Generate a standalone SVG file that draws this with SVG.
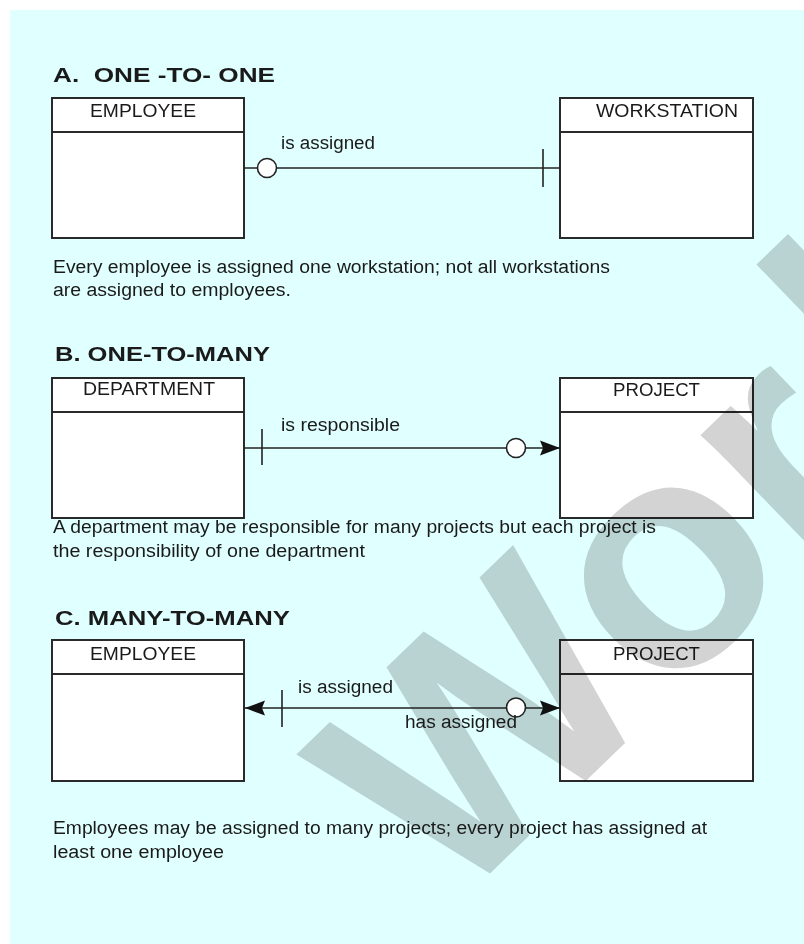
<svg xmlns="http://www.w3.org/2000/svg" width="804" height="944" viewBox="0 0 804 944">
<style>
.bg{fill:#e0ffff}
.box{fill:#ffffff;stroke:#2a2a2a;stroke-width:2}
.div{stroke:#2a2a2a;stroke-width:2}
.ln{stroke:#222;stroke-width:1.6;fill:none}
.tk{stroke:#222;stroke-width:1.6}
.circ{fill:#ffffff;stroke:#222;stroke-width:1.6}
.ah{fill:#111}
.h{font-family:"Liberation Sans",Arial,sans-serif;font-weight:bold;font-size:21px;fill:#1a1a1a}
.t{font-family:"Liberation Sans",Arial,sans-serif;font-size:18px;fill:#1a1a1a}
.wm{font-family:"Liberation Sans",Arial,sans-serif;font-weight:bold;font-size:320px;fill:#d3d3d3;mix-blend-mode:multiply}
</style>
<rect x="0" y="0" width="804" height="944" fill="#ffffff"/>
<rect class="bg" x="10" y="10" width="794" height="934"/>

<g id="employee-a">
<rect class="box" x="52" y="98" width="192" height="140"/>
<line class="div" x1="52" y1="132" x2="244" y2="132"/>
<text class="t" x="90" y="117" textLength="106" lengthAdjust="spacingAndGlyphs">EMPLOYEE</text>
</g>
<g id="workstation-a">
<rect class="box" x="560" y="98" width="193" height="140"/>
<line class="div" x1="560" y1="132" x2="753" y2="132"/>
<text class="t" x="596" y="117" textLength="142" lengthAdjust="spacingAndGlyphs">WORKSTATION</text>
</g>
<g id="department-b">
<rect class="box" x="52" y="378" width="192" height="140"/>
<line class="div" x1="52" y1="412" x2="244" y2="412"/>
<text class="t" x="83" y="395" textLength="132" lengthAdjust="spacingAndGlyphs">DEPARTMENT</text>
</g>
<g id="project-b">
<rect class="box" x="560" y="378" width="193" height="140"/>
<line class="div" x1="560" y1="412" x2="753" y2="412"/>
<text class="t" x="613" y="396" textLength="87" lengthAdjust="spacingAndGlyphs">PROJECT</text>
</g>
<g id="employee-c">
<rect class="box" x="52" y="640" width="192" height="141"/>
<line class="div" x1="52" y1="674" x2="244" y2="674"/>
<text class="t" x="90" y="660" textLength="106" lengthAdjust="spacingAndGlyphs">EMPLOYEE</text>
</g>
<g id="project-c">
<rect class="box" x="560" y="640" width="193" height="141"/>
<line class="div" x1="560" y1="674" x2="753" y2="674"/>
<text class="t" x="613" y="660" textLength="87" lengthAdjust="spacingAndGlyphs">PROJECT</text>
</g>

<g id="watermark">
<text class="wm" transform="translate(449,913) rotate(-44)">Wor<tspan dx="33" dy="-21">ld</tspan></text>
</g>

<text class="h" x="53" y="82" textLength="222" lengthAdjust="spacingAndGlyphs" xml:space="preserve">A.  ONE -TO- ONE</text>
<text class="t" x="53" y="273" textLength="557" lengthAdjust="spacingAndGlyphs">Every employee is assigned one workstation; not all workstations</text>
<text class="t" x="53" y="296" textLength="238" lengthAdjust="spacingAndGlyphs">are assigned to employees.</text>
<text class="h" x="55" y="361" textLength="215" lengthAdjust="spacingAndGlyphs">B. ONE-TO-MANY</text>
<text class="t" x="53" y="533" textLength="603" lengthAdjust="spacingAndGlyphs">A department may be responsible for many projects but each project is</text>
<text class="t" x="53" y="557" textLength="312" lengthAdjust="spacingAndGlyphs">the responsibility of one department</text>
<text class="h" x="55" y="625" textLength="235" lengthAdjust="spacingAndGlyphs">C. MANY-TO-MANY</text>
<text class="t" x="53" y="834" textLength="654" lengthAdjust="spacingAndGlyphs">Employees may be assigned to many projects; every project has assigned at</text>
<text class="t" x="53" y="858" textLength="171" lengthAdjust="spacingAndGlyphs">least one employee</text>

<g id="connectors">
<g id="conn-a">
<line class="ln" x1="244" y1="168" x2="560" y2="168"/>
<circle class="circ" cx="267" cy="168" r="9.5"/>
<line class="tk" x1="543" y1="149" x2="543" y2="187"/>
<text class="t" x="281" y="149" textLength="94" lengthAdjust="spacingAndGlyphs">is assigned</text>
</g>
<g id="conn-b">
<line class="ln" x1="244" y1="448" x2="560" y2="448"/>
<line class="tk" x1="262" y1="429" x2="262" y2="465"/>
<circle class="circ" cx="516" cy="448" r="9.5"/>
<polygon class="ah" points="540,440.5 560,448 540,455.5 543,448"/>
<text class="t" x="281" y="431" textLength="119" lengthAdjust="spacingAndGlyphs">is responsible</text>
</g>
<g id="conn-c">
<line class="ln" x1="244" y1="708" x2="560" y2="708"/>
<polygon class="ah" points="265,700.5 245,708 265,715.5 262,708"/>
<line class="tk" x1="282" y1="690" x2="282" y2="727"/>
<circle class="circ" cx="516" cy="707.5" r="9.5"/>
<polygon class="ah" points="540,700.5 560,708 540,715.5 543,708"/>
<text class="t" x="298" y="693" textLength="95" lengthAdjust="spacingAndGlyphs">is assigned</text>
<text class="t" x="405" y="728" textLength="112" lengthAdjust="spacingAndGlyphs">has assigned</text>
</g>
</g>
</svg>
